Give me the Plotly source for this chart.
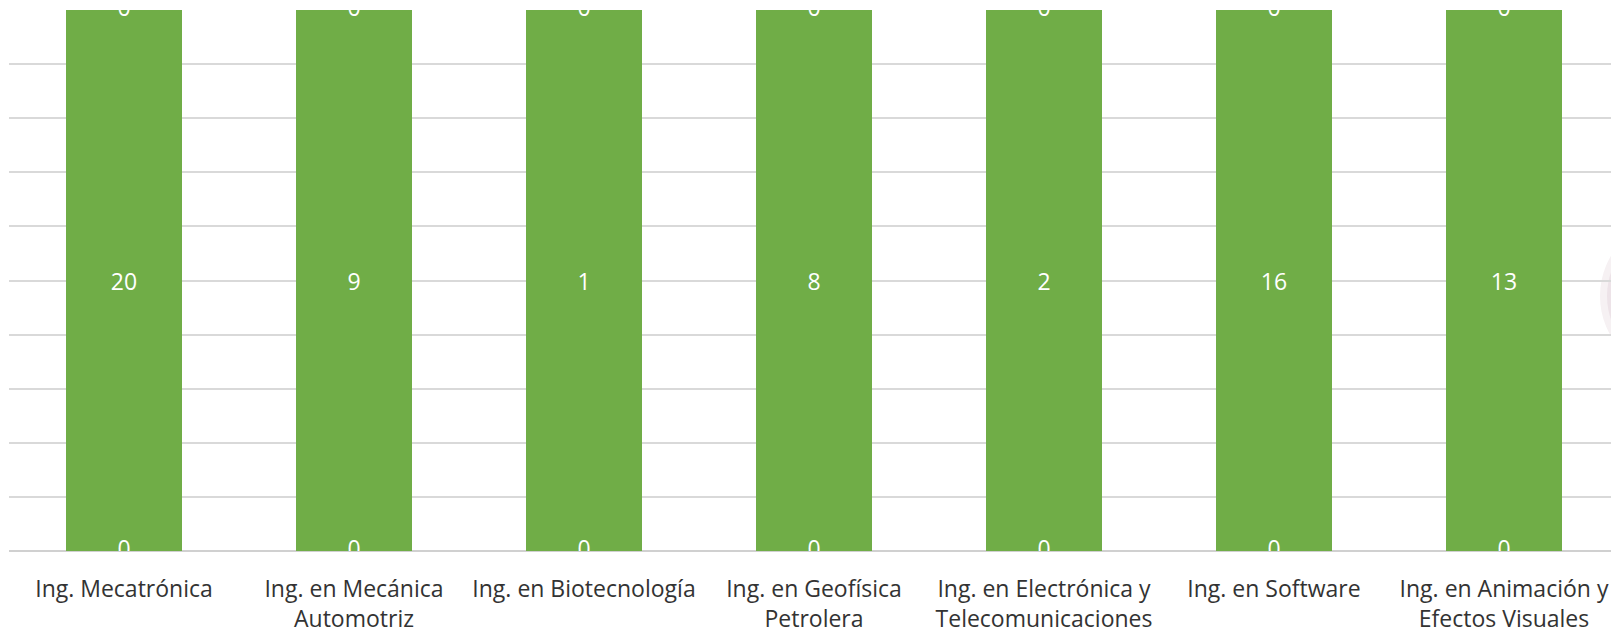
import plotly.graph_objects as go

categories = [
    "Ing. Mecatrónica",
    "Ing. en Mecánica<br>Automotriz",
    "Ing. en Biotecnología",
    "Ing. en Geofísica<br>Petrolera",
    "Ing. en Electrónica y<br>Telecomunicaciones",
    "Ing. en Software",
    "Ing. en Animación y<br>Efectos Visuales",
]
bottom_values = [0, 0, 0, 0, 0, 0, 0]
middle_values = [20, 9, 1, 8, 2, 16, 13]
top_values = [0, 0, 0, 0, 0, 0, 0]

GREEN = "#70AD47"
FONT = "Open Sans"

totals = [b + m + t for b, m, t in zip(bottom_values, middle_values, top_values)]
bottom_pos = [100 * b / tot for b, tot in zip(bottom_values, totals)]
top_pos = [100 * (b + m + t) / tot for b, m, t, tot in zip(bottom_values, middle_values, top_values, totals)]

fig = go.Figure()
fig.add_trace(go.Bar(x=categories, y=bottom_values, marker=dict(color=GREEN, line=dict(width=0)),
                     showlegend=False, hoverinfo="skip"))
fig.add_trace(go.Bar(x=categories, y=middle_values, marker=dict(color=GREEN, line=dict(width=0)),
                     text=[str(v) for v in middle_values], textposition="inside",
                     insidetextanchor="middle", textangle=0,
                     textfont=dict(color="white", size=23, family=FONT),
                     showlegend=False, hoverinfo="skip"))
fig.add_trace(go.Bar(x=categories, y=top_values, marker=dict(color=GREEN, line=dict(width=0)),
                     showlegend=False, hoverinfo="skip"))
# labels of the zero-height segments
fig.add_trace(go.Scatter(x=categories, y=bottom_pos, mode="text",
                         text=[str(v) for v in bottom_values], textposition="middle center",
                         textfont=dict(color="white", size=23, family=FONT),
                         cliponaxis=True, showlegend=False, hoverinfo="skip"))
fig.add_trace(go.Scatter(x=categories, y=top_pos, mode="text",
                         text=[str(v) for v in top_values], textposition="middle center",
                         textfont=dict(color="white", size=23, family=FONT),
                         cliponaxis=True, showlegend=False, hoverinfo="skip"))

# page body has an 8px margin: plot area spans x 9..1619, y 10..551 in the window
W, H = 1611, 623
ML, MT, MB = 1, 2, 80
PW, PH = W - ML, H - MT - MB


def px_x(x):
    return (x - 8 - ML) / PW


def px_y(y):
    return (H - MB - (y - 8)) / PH


fig.update_layout(
    width=W, height=H,
    barmode="stack", barnorm="percent", bargap=0.496,
    paper_bgcolor="white", plot_bgcolor="white",
    margin=dict(l=ML, r=0, t=MT, b=MB, autoexpand=False),
    font=dict(family=FONT, color="#333333"),
    xaxis=dict(type="category", showgrid=False, ticks="", showline=False,
               tickfont=dict(size=23, family=FONT, color="#333333"),
               ticklabelstandoff=22, fixedrange=True),
    yaxis=dict(range=[0, 100], dtick=10, showgrid=True, gridcolor="#D9D9D9", gridwidth=2,
               zeroline=True, zerolinecolor="#D0D0D0", zerolinewidth=2,
               showticklabels=False, ticks="", fixedrange=True),
    shapes=[
        dict(type="circle", xref="paper", yref="paper", layer="below",
             x0=px_x(1600), x1=px_x(1758), y0=px_y(375), y1=px_y(217),
             fillcolor="#F6F1F3", line=dict(width=0)),
        dict(type="circle", xref="paper", yref="paper", layer="below",
             x0=px_x(1607), x1=px_x(1751), y0=px_y(368), y1=px_y(224),
             fillcolor="#EDE3E8", line=dict(width=0)),
    ],
)

fig.write_html("out.html")
